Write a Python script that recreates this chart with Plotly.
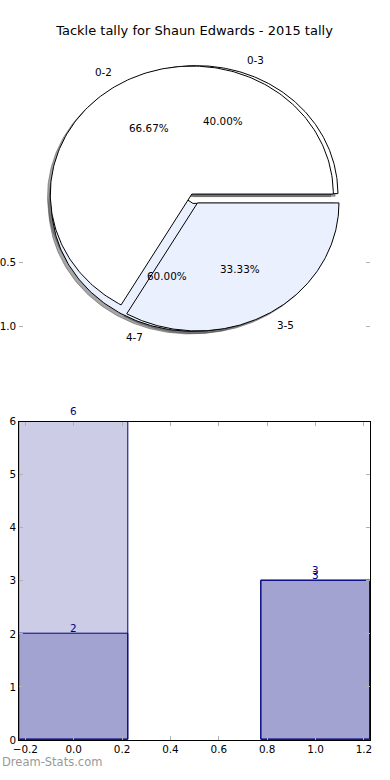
import numpy as np
import plotly.graph_objects as go

# ---------------- data ----------------
categories = [0, 1]
light_values = [6, 3]          # back bars, also the 0-2 / 3-5 pie
dark_values = [2, 3]           # front bars, also the 0-3 / 4-7 pie
pie1_labels = ["0-2", "3-5"]   # from light_values
pie2_labels = ["0-3", "4-7"]   # from dark_values
x_tick_vals = [-0.2, 0.0, 0.2, 0.4, 0.6, 0.8, 1.0, 1.2]
y_tick_vals = [0, 1, 2, 3, 4, 5, 6]
pie_tick_vals = [-1.0, -0.5]
pie_tick_text = ["1.0", "0.5"]   # as visible in the reference (sign cut off)
title_text = "Tackle tally for Shaun Edwards - 2015 tally"
watermark = "Dream-Stats.com"

# ---------------- style ----------------
W, H = 390, 780
FONT = "DejaVu Sans"
NAVY = "#000080"
BAR_FILL = "rgba(0,0,128,0.2)"
PIE_COLORS = ["#ffffff", "#eaf0fd"]
SHADOW = "rgba(77,77,77,0.5)"
TICKC = "#b0b0b0"
EXPLODE = 0.04
BAR_W = 0.45

# pixel geometry
ax_left, ax_right = 19.3, 370.0
bar_top, bar_bot = 421.7, 740.0
pie_cx_px, pie_cy_px = 194.65, 198.5
rx_px, ry_px = 141.5, 128.0
pie_top_px, pie_bot_px = 50.0, 350.0


def px2paper_x(p):
    return p / W


def px2paper_y(p):
    return (H - p) / H


fig = go.Figure()

# ---------------- pies (drawn as wedges on their own axes) ----------------
shadow_traces, wedge_traces, pie_annots = [], [], []
for labels, values in [(pie2_labels, dark_values), (pie1_labels, light_values)]:
    total = float(sum(values))
    t1 = 0.0
    for i, (lab, v) in enumerate(zip(labels, values)):
        t2 = t1 + 360.0 * v / total
        tm = np.deg2rad((t1 + t2) / 2.0)
        cx, cy = EXPLODE * np.cos(tm), EXPLODE * np.sin(tm)
        ang = np.deg2rad(np.linspace(t1, t2, 200))
        xs = np.concatenate([[cx], cx + np.cos(ang), [cx]])
        ys = np.concatenate([[cy], cy + np.sin(ang), [cy]])
        shadow_traces.append(go.Scatter(
            x=xs - 0.02, y=ys - 0.02, mode="lines", fill="toself",
            fillcolor=SHADOW, line=dict(color=SHADOW, width=1),
            xaxis="x2", yaxis="y2", hoverinfo="skip", showlegend=False))
        wedge_traces.append(go.Scatter(
            x=xs, y=ys, mode="lines", fill="toself",
            fillcolor=PIE_COLORS[i % len(PIE_COLORS)],
            line=dict(color="black", width=1),
            xaxis="x2", yaxis="y2", name=lab, showlegend=False))
        lx, ly = cx + 1.1 * np.cos(tm), cy + 1.1 * np.sin(tm)
        pie_annots.append(dict(
            x=lx, y=ly, xref="x2", yref="y2", text=lab, showarrow=False,
            xanchor="left" if lx > 0 else "right", yanchor="middle",
            font=dict(family=FONT, size=10.4, color="black")))
        px_, py_ = cx + 0.6 * np.cos(tm), cy + 0.6 * np.sin(tm)
        pie_annots.append(dict(
            x=px_, y=py_, xref="x2", yref="y2",
            text="%1.2f%%" % (100.0 * v / total), showarrow=False,
            xanchor="center", yanchor="middle",
            font=dict(family=FONT, size=10.4, color="black")))
        t1 = t2

for t in shadow_traces + wedge_traces:
    fig.add_trace(t)

# ---------------- bars ----------------
fig.add_trace(go.Bar(x=categories, y=light_values, width=BAR_W,
                     marker=dict(color=BAR_FILL, line=dict(color=NAVY, width=1)),
                     xaxis="x", yaxis="y", showlegend=False))
fig.add_trace(go.Bar(x=categories, y=dark_values, width=BAR_W,
                     marker=dict(color=BAR_FILL, line=dict(color=NAVY, width=1)),
                     xaxis="x", yaxis="y", showlegend=False))

bar_annots = []
for vals, shift in [(light_values, 2.5), (dark_values, -2.5)]:
    for c, v in zip(categories, vals):
        bar_annots.append(dict(
            x=c, y=v, xref="x", yref="y", text=str(v), showarrow=False,
            xanchor="center", yanchor="bottom", yshift=shift,
            font=dict(family=FONT, size=10.4, color=NAVY)))

other_annots = [dict(
    x=0, y=px2paper_y(762), xref="paper", yref="paper", text=watermark,
    showarrow=False, xanchor="left", yanchor="middle",
    font=dict(family=FONT, size=11.5, color="#999999"))]

# ---------------- layout ----------------
pie_xr = [(ax_left - pie_cx_px) / rx_px, (ax_right - pie_cx_px) / rx_px]
pie_yr = [(pie_cy_px - pie_bot_px) / ry_px, (pie_cy_px - pie_top_px) / ry_px]

tickfont = dict(family=FONT, size=10.4, color="black")

fig.update_layout(
    width=W, height=H,
    margin=dict(l=0, r=0, t=0, b=0, autoexpand=False),
    paper_bgcolor="white", plot_bgcolor="white",
    barmode="overlay", bargap=0,
    showlegend=False,
    title=dict(text=title_text, x=194.5 / W, xref="paper", xanchor="center",
               y=px2paper_y(30), yref="paper", yanchor="middle",
               automargin=False,
               font=dict(family=FONT, size=13, color="black")),
    xaxis=dict(domain=[px2paper_x(ax_left), px2paper_x(ax_right)],
               range=[-0.225, 1.225], tickvals=x_tick_vals, tickformat=".1f",
               showgrid=False, zeroline=False, showline=True, linecolor="black",
               linewidth=1, mirror="ticks", ticks="inside", ticklen=4,
               tickcolor=TICKC, tickfont=tickfont, anchor="y", automargin=False),
    yaxis=dict(domain=[px2paper_y(bar_bot), px2paper_y(bar_top)],
               range=[0, 6], tickvals=y_tick_vals,
               showgrid=False, zeroline=False, showline=True, linecolor="black",
               linewidth=1, mirror="ticks", ticks="inside", ticklen=4,
               tickcolor=TICKC, tickfont=tickfont, anchor="x", automargin=False),
    xaxis2=dict(domain=[px2paper_x(ax_left), px2paper_x(ax_right)],
                range=pie_xr, showgrid=False, zeroline=False, showline=False,
                showticklabels=False, ticks="", anchor="y2", automargin=False),
    yaxis2=dict(domain=[px2paper_y(pie_bot_px), px2paper_y(pie_top_px)],
                range=pie_yr, tickvals=pie_tick_vals, ticktext=pie_tick_text,
                showgrid=False, zeroline=False, showline=True,
                linecolor="rgba(0,0,0,0)", mirror="ticks", ticks="inside",
                ticklen=4, tickcolor=TICKC, tickfont=tickfont, anchor="x2",
                automargin=False),
    annotations=pie_annots + bar_annots + other_annots,
)

fig.write_html("out.html",
               config={"displayModeBar": False},
               post_script="document.body.style.margin='0';"
                           "document.body.style.padding='0';")
